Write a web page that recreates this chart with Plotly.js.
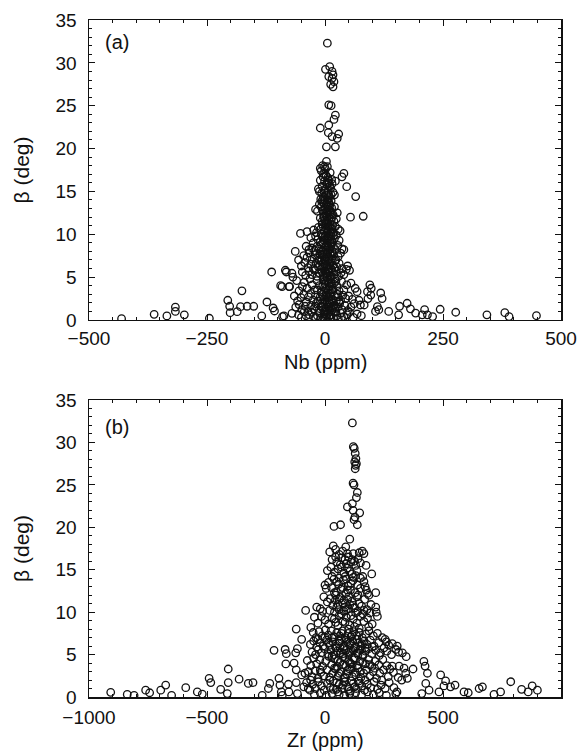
<!DOCTYPE html>
<html>
<head>
<meta charset="utf-8">
<script src="https://cdn.plot.ly/plotly-3.0.1.min.js"></script>
<style>html,body{margin:0;padding:0;background:#fff;}#chart{width:580px;height:751px;}</style>
</head>
<body>
<div id="chart"></div>
<script>
// Panel (a): Nb (ppm) vs beta (deg) — [Nb, beta] pairs
const nbPeak = [[5,32.3],[1,29.25],[10,29.55],[15,29.0],[17,28.6],[15,28.2],[19,27.8],[17,27.2],[12,27.5],[8,28.4],
  [8,25.1],[13,25.0],[22,23.9],[19,23.4],[-10,22.4],[8,22.75],[7,21.85],[15,21.4],[29,21.7],[26,21.2],[3,20.2],[22,20.2],
  [3,18.5],[-10,17.7],[-1,17.9],[40,17.1],[36,16.7],[46,15.55],[65,14.4],[54,12.0],[81,12.1]];
const nbCore = [
  [-8,17.4],[-3,17.1],[2,16.9],[6,16.6],[-10,16.3],[-1,16.2],[9,16.0],[14,16.4],[4,15.8],[-6,15.6],[12,15.4],[0,15.2],[7,15.0],[-12,15.0],
  [17,14.9],[3,14.6],[-4,14.4],[10,14.3],[-9,14.1],[6,14.0],[20,14.6],[15,15.9],[22,16.2],[-14,15.3],[1,17.6],[11,17.2],[5,17.9],[-5,18.0],
  [-20,12.9],[-16,12.7],[-12,13.5],[-8,13.2],[-5,12.8],[-2,13.6],[1,13.0],[3,12.4],[5,13.8],[8,12.9],[10,13.4],[12,12.6],[14,13.1],[17,12.3],
  [20,13.2],[24,11.8],[-10,11.9],[-6,11.5],[-3,12.1],[0,11.6],[2,11.2],[4,12.0],[6,11.4],[9,11.9],[11,11.1],[13,11.6],[16,11.0],[19,11.5],
  [22,10.9],[-14,10.8],[-9,10.6],[-4,10.9],[-1,10.3],[3,10.7],[5,10.2],[7,10.9],[10,10.4],[12,10.1],[15,10.6],[18,10.2],[28,10.6],[32,10.4],
  [-18,10.2],[26,12.5],[-7,14.8],[8,14.6],[13,13.9],[0,14.0],[-2,12.0],[6,12.5],
  [-52,10.1],[-38,10.3],[-24,10.5],[-30,9.6],[-25,9.0],[-20,9.8],[-15,9.4],[-10,9.1],[-6,9.7],[-2,9.3],[1,9.8],[4,9.0],[7,9.5],[10,9.2],
  [13,9.8],[16,9.1],[20,9.5],[24,9.9],[30,9.3],[36,8.3],[-63,8.0],[-40,8.6],[-34,8.2],[-28,8.4],[-22,8.1],[-17,8.6],[-12,8.3],[-8,8.8],
  [-4,8.0],[0,8.5],[3,8.1],[6,8.7],[9,8.2],[12,8.6],[15,8.0],[18,8.5],[22,8.2],[27,8.7],[40,8.2],[-56,7.0],[-45,7.5],[-38,7.3],[-33,7.8],
  [-27,7.1],[-21,7.6],[-16,7.2],[-11,7.7],[-7,7.0],[-3,7.4],[1,7.1],[4,7.7],[8,7.3],[11,7.8],[14,7.1],[18,7.5],[23,7.0],[28,7.4],[33,7.8],
  [-50,6.3],[-43,6.7],[-36,6.1],[-30,6.5],[-25,6.0],[-19,6.6],[-14,6.2],[-9,6.8],[-5,6.1],[-1,6.5],[3,6.9],[6,6.2],[10,6.6],[13,6.0],
  [17,6.4],[21,6.9],[25,6.2],[30,6.6],[36,6.0],[48,6.3],[52,5.8],[-84,5.8],[-70,5.45],[-68,5.0],[-48,5.6],[-41,5.2],[-34,5.7],[-28,5.3],
  [-22,5.8],[-17,5.1],[-12,5.5],[-8,5.9],[-4,5.3],[0,5.7],[4,5.1],[7,5.6],[11,5.2],[15,5.8],[19,5.3],[24,5.7],[29,5.1],[34,5.5],[40,5.3],[45,5.9],
  [-91,3.9],[-75,3.9],[-48,3.9],[-60,4.6],[-55,3.4],[-44,4.4],[-38,3.7],[-32,4.8],[-27,4.1],[-22,3.5],[-17,4.6],[-12,4.0],[-8,3.3],[-4,4.7],
  [0,4.2],[3,3.6],[6,4.5],[9,3.9],[13,4.3],[17,3.5],[21,4.8],[25,4.0],[30,3.4],[35,4.5],[40,3.5],[46,4.1],[55,4.3],[64,3.7],[68,3.3],
  [-65,2.8],[-58,2.2],[-51,2.6],[-45,3.0],[-40,2.1],[-35,2.7],[-30,3.1],[-25,2.3],[-20,2.9],[-15,2.2],[-10,2.7],[-6,3.0],[-2,2.4],[2,2.9],
  [5,2.1],[8,2.6],[12,3.1],[16,2.4],[20,2.8],[24,2.2],[28,2.7],[33,2.3],[38,2.9],[44,2.5],[50,2.8],[58,2.4],[72,2.3],
  [-62,1.5],[-55,1.8],[-49,1.2],[-42,1.6],[-36,1.0],[-30,1.7],[-24,1.3],[-19,1.9],[-13,1.1],[-8,1.6],[-3,1.2],[1,1.8],[4,1.0],[8,1.5],
  [11,1.9],[15,1.2],[19,1.7],[23,1.0],[27,1.5],[31,1.9],[36,1.2],[42,1.7],[48,1.1],[55,1.5],[62,1.9],[75,1.75],[83,1.75],
  [-44,0.97],[-56,0.58],[-70,0.78],[-87,0.47],[-24,0.4],[8,0.4],[-33,0.6],[-16,0.5],[-9,0.2],[-1,0.7],[3,0.3],[13,0.6],[18,0.2],
  [25,0.5],[33,0.8],[40,0.4],[47,0.6],[60,0.3],[68,0.7],[77,0.5]];
const nbDense = [[2,16.8],[7,16.3],[-4,16.7],[10,15.6],[-2,15.0],[5,14.8],[13,14.6],[-7,13.8],[2,13.4],[7,13.3],[11,12.8],[-3,12.5],
  [4,12.7],[9,12.2],[15,12.0],[-6,11.2],[1,11.0],[7,10.6],[11,10.8],[14,12.4],[-1,9.6],[5,9.4],[9,9.9],[12,9.0],[-5,9.0],[2,8.7],
  [7,8.4],[-9,8.1],[14,8.9],[-1,7.7],[3,7.4],[6,7.9],[9,7.0],[16,7.8],[-6,7.6],[0,6.9],[4,6.4],[8,6.0],[12,6.8],[-3,6.3],[-11,6.4],
  [2,5.4],[6,5.9],[9,5.5],[13,5.0],[-2,5.0],[-6,5.6],[1,4.6],[4,4.9],[8,4.3],[11,4.8],[15,4.0],[-1,3.8],[-5,3.9],[3,3.2],[7,3.5],
  [10,3.0],[14,3.6],[18,4.2],[-3,2.7],[0,2.2],[5,2.6],[9,2.0],[13,2.3],[-7,2.0],[2,1.4],[6,1.7],[10,1.2],[-1,1.0],[-5,1.5],[16,1.4],
  [3,0.6],[7,0.9],[11,0.3],[-3,0.3],[20,0.9],[-12,0.8],[-20,0.3],[28,0.2],[-28,0.9],[35,0.3],[-40,0.5],[52,0.9],[-50,0.3],[0,0.1],
  [5,16.0],[-5,14.0],[9,13.6],[3,11.4],[-8,10.0],[6,9.7],[18,9.8],[-13,7.0],[20,6.1],[23,4.5],[-16,3.5],[-20,1.6],[22,1.5],[26,3.0],[30,2.1]];
const nbWings = [[-431,0.15],[-362,0.66],[-335,0.47],[-317,1.5],[-317,1.0],[-298,0.6],[-245,0.2],[-206,2.3],[-202,1.6],[-201,0.85],
  [-176,3.4],[-186,0.97],[-179,1.55],[-165,1.6],[-151,1.6],[-134,0.47],[-123,2.1],[-113,5.6],[-110,1.4],[-107,1.05],[-90,0.4],
  [-94,4.0],[-82,5.6],[-76,3.9],[90,3.3],[97,2.9],[95,4.1],[98,3.7],[91,2.5],[111,1.55],[114,1.2],[107,1.0],[118,3.15],[121,2.5],
  [135,1.0],[156,0.6],[158,1.6],[174,1.95],[181,1.3],[192,0.8],[206,0.6],[211,1.2],[217,0.6],[228,0.4],[244,1.25],[277,0.9],
  [343,0.6],[381,0.85],[390,0.4],[448,0.5]];

// Panel (b): Zr (ppm) vs beta (deg) — [Zr, beta] pairs
const zrPeak = [[116,32.3],[120,29.5],[124,29.3],[128,28.7],[131,28.1],[126,27.7],[130,27.3],[128,26.9],[133,27.5],[119,25.2],[123,25.0],
  [137,24.1],[133,23.5],[95,22.4],[116,22.8],[119,22.0],[147,21.7],[127,21.2],[123,20.9],[137,20.3],[38,20.1],[66,20.3]];
const zrCore = [
  [35,17.8],[88,17.7],[105,18.6],[158,17.2],[165,16.9],[20,17.1],[45,17.4],[60,16.8],[75,17.2],[100,16.5],[120,16.9],[140,16.3],[30,16.2],
  [50,15.9],[70,16.4],[90,15.7],[110,15.9],[130,15.5],[150,15.8],[174,15.5],[10,14.9],[25,15.3],[40,14.7],[55,15.1],[80,14.6],[95,15.2],
  [115,14.5],[135,14.9],[160,14.2],[198,14.5],[65,15.6],[85,16.2],[125,16.0],[145,17.0],
  [5,12.8],[15,13.5],[28,12.9],[38,13.9],[48,12.4],[58,13.3],[68,12.7],[78,13.8],[88,12.2],[98,13.1],[108,12.6],[118,13.7],[128,12.3],
  [138,13.2],[150,12.8],[165,13.6],[180,12.2],[215,12.3],[186,12.0],[-5,11.8],[10,11.2],[22,11.6],[33,10.8],[44,11.4],[55,10.9],[65,11.7],
  [75,11.1],[85,10.6],[95,11.5],[105,10.9],[115,11.3],[125,10.5],[135,11.8],[145,11.0],[155,10.7],[168,11.5],[178,10.3],[195,10.9],
  [215,10.6],[217,10.0],[222,9.5],[-20,10.4],[-35,10.6],[-82,10.2],[-10,10.1],[20,10.2],[40,10.0],[60,10.3],[80,10.1],[100,10.4],
  [140,10.1],[160,9.8],[190,9.9],[30,14.2],[60,14.0],[90,13.9],[120,14.1],[150,14.0],[170,13.0],[0,13.2],[45,12.0],
  [-60,8.2],[-45,9.4],[-30,8.7],[-15,9.5],[0,9.1],[15,8.6],[30,9.3],[45,8.8],[60,9.6],[75,8.9],[90,9.4],[105,8.5],[120,9.2],[135,8.7],
  [150,9.5],[165,8.9],[180,9.3],[200,8.6],
  [-50,7.6],[-38,7.0],[-25,7.7],[-12,7.2],[2,7.9],[14,7.3],[26,7.8],[38,7.1],[50,7.6],[62,7.2],[74,7.8],[86,7.0],[98,7.5],[110,7.1],
  [122,7.7],[134,7.2],[146,7.6],[158,7.0],[172,7.4],[186,7.8],[205,7.2],[222,7.5],[243,7.0],[260,6.5],[285,6.3],[306,6.0],[300,5.6],
  [328,5.2],[344,4.75],
  [-62,6.2],[-48,6.6],[-35,5.9],[-22,6.4],[-8,6.0],[6,6.7],[20,6.1],[33,6.5],[46,5.8],[58,6.3],[70,6.8],[82,6.0],[94,6.5],[106,6.1],
  [118,6.6],[130,5.9],[142,6.4],[154,6.0],[166,6.6],[178,6.2],[192,6.7],[208,6.0],[228,6.4],[250,5.8],[270,6.1],
  [-55,5.3],[-40,5.0],[-28,5.6],[-15,5.2],[-2,5.7],[12,5.1],[25,5.5],[38,5.0],[52,5.4],[64,5.8],[76,5.1],[88,5.5],[100,5.0],[112,5.4],
  [124,5.8],[136,5.2],[148,5.6],[160,5.0],[172,5.4],[185,5.7],[198,5.1],[215,5.5],[235,5.2],[262,5.4],[282,5.0],[312,5.3],
  [-75,4.3],[-60,3.7],[-48,4.6],[-35,3.9],[-22,4.4],[-10,3.6],[3,4.2],[16,4.8],[28,3.8],[40,4.5],[52,3.6],[64,4.1],[76,4.7],[88,3.7],
  [100,4.3],[112,3.9],[124,4.6],[136,3.7],[148,4.2],[160,4.8],[172,3.9],[185,4.4],[198,3.6],[212,4.2],[228,3.8],[245,4.4],[262,3.7],
  [285,3.65],[314,3.65],[335,3.4],[373,3.3],[342,2.8],[349,2.2],
  [-85,2.8],[-70,3.0],[-55,2.4],[-42,3.1],[-30,2.2],[-18,2.9],[-5,2.5],[8,3.2],[20,2.3],[32,2.8],[44,3.3],[56,2.5],[68,3.0],[80,2.2],
  [92,2.7],[104,3.3],[116,2.4],[128,2.9],[140,3.4],[152,2.3],[164,2.8],[176,3.2],[190,2.5],[204,3.0],[218,2.2],[232,2.8],[248,3.2],
  [268,2.4],[290,2.9],[310,2.3],[325,2.0],
  [-90,1.2],[-78,1.7],[-64,0.8],[-52,1.5],[-40,1.0],[-28,1.8],[-15,1.3],[-3,0.8],[10,1.6],[22,1.1],[35,1.9],[48,0.9],[60,1.5],[72,1.0],
  [84,1.8],[96,1.2],[108,0.7],[120,1.6],[132,1.0],[144,1.9],[156,1.3],[168,0.8],[180,1.5],[194,1.1],[208,1.8],[222,0.9],[238,1.4],
  [255,1.0],[272,1.7],[292,1.1],[305,0.6],
  [-45,0.3],[-20,0.5],[5,0.2],[30,0.4],[55,0.6],[80,0.15],[105,0.4],[130,0.5],[155,0.25],[180,0.6],[205,0.3],[230,0.5],[260,0.2],[300,0.4]];
const zrDense = [[45,16.5],[95,16.9],[115,16.2],[70,15.3],[105,14.8],[85,14.2],[50,13.6],[110,13.4],[130,14.3],[75,12.9],[95,12.6],
  [40,12.3],[140,12.0],[60,11.5],[100,11.8],[80,11.4],[120,10.8],[50,10.6],[90,10.2],[130,9.9],[70,9.8],[110,9.6],[40,9.2],[85,8.8],
  [125,8.3],[55,8.4],[100,8.0],[145,8.1],[70,7.5],[115,7.3],[30,7.0],[90,6.7],[135,6.8],[60,6.6],[105,6.4],[155,6.3],[45,6.0],[80,5.7],
  [120,5.5],[170,5.8],[65,5.2],[100,5.3],[140,5.0],[30,4.8],[85,4.6],[125,4.4],[55,4.3],[105,4.0],[160,4.1],[75,3.8],[115,3.5],[40,3.4],
  [95,3.1],[150,3.0],[60,2.8],[130,2.6],[85,2.3],[20,2.0],[110,1.9],[50,1.7],[145,1.6],[75,1.4],[100,0.9],[35,0.9],[60,0.3],[125,1.2],
  [170,2.0],[190,3.8],[200,5.9],[185,8.3],[165,10.2],[175,12.6],[15,6.4],[0,7.0],[-20,3.2],[-30,6.8],[210,3.4],[240,2.0],[275,3.3],
  [255,6.8],[230,4.9]];
const zrWings = [[-908,0.55],[-838,0.3],[-809,0.2],[-760,0.8],[-743,0.5],[-696,0.8],[-675,1.4],[-650,0.2],[-590,1.1],[-541,0.6],
  [-520,0.35],[-442,0.9],[-491,2.2],[-484,1.7],[-410,3.3],[-410,1.7],[-414,0.4],[-364,2.1],[-325,1.6],[-305,1.7],[-266,0.2],
  [-240,1.0],[-234,1.6],[-195,2.2],[-191,1.4],[-185,0.6],[-181,0.2],[-155,1.5],[-153,0.6],[-122,1.7],[-117,0.4],[-99,2.6],
  [-71,1.0],[-61,2.0],[-131,4.0],[-122,3.2],[-166,3.9],[-122,8.0],[-99,6.8],[-117,5.7],[-124,5.2],[-216,5.5],[-169,5.6],[-164,5.1],
  [419,4.2],[424,3.65],[434,2.8],[427,1.6],[441,0.8],[410,0.4],[490,2.6],[511,1.9],[504,1.3],[483,0.6],[532,1.2],[551,1.4],
  [589,0.6],[607,0.5],[653,1.0],[667,1.2],[716,0.3],[744,0.6],[787,1.8],[833,0.9],[861,0.6],[878,1.3],[900,0.8]];

// tick labels and titles
const nbTicks = [-500, -250, 0, 250, 500];
const zrTicks = [-1000, -500, 0, 500, 1000];
const betaTicks = [0, 5, 10, 15, 20, 25, 30, 35];
const xTitles = ['Nb (ppm)', 'Zr (ppm)'];
const yTitle = '\u03b2 (deg)';
const panelLabels = ['(a)', '(b)'];

const nbAll = nbPeak.concat(nbCore, nbDense, nbWings);
const zrAll = zrPeak.concat(zrCore, zrDense, zrWings);

const marker = {symbol: 'circle-open', size: 7.5, color: '#111', line: {width: 1.3, color: '#111'}};
const traces = [
  {type: 'scatter', mode: 'markers', x: nbAll.map(p => p[0]), y: nbAll.map(p => p[1]), xaxis: 'x', yaxis: 'y', marker: marker, hoverinfo: 'x+y'},
  {type: 'scatter', mode: 'markers', x: zrAll.map(p => p[0]), y: zrAll.map(p => p[1]), xaxis: 'x2', yaxis: 'y2', marker: marker, hoverinfo: 'x+y'}
];

const family = 'Liberation Sans, Arial, Helvetica, sans-serif';
const tickFont = {family: family, size: 19, color: '#111'};
const titleFont = {family: family, size: 20, color: '#111'};
const labelFont = {family: family, size: 20, color: '#111'};
function xa(range, ticks, minorStep, anchor, standoff) {
  return {range: range, tickvals: ticks, ticktext: ticks.map(v => v < 0 ? '\u2212' + Math.abs(v) : String(v)),
    ticks: 'inside', ticklen: 6, tickwidth: 1, tickcolor: '#111',
    minor: {dtick: minorStep, ticks: 'inside', ticklen: 3, tickwidth: 1, tickcolor: '#111'},
    showline: true, linecolor: '#111', linewidth: 1.5, mirror: 'ticks', showgrid: false, zeroline: false,
    tickfont: tickFont, ticklabelstandoff: standoff, anchor: anchor, domain: [0, 1]};
}
function ya(domain, anchor) {
  return {range: [0, 35], tickvals: betaTicks, ticks: 'inside', ticklen: 6, tickwidth: 1, tickcolor: '#111',
    minor: {dtick: 1, ticks: 'inside', ticklen: 3, tickwidth: 1, tickcolor: '#111'},
    showline: true, linecolor: '#111', linewidth: 1.5, mirror: 'ticks', showgrid: false, zeroline: false,
    tickfont: tickFont, ticklabelstandoff: 7, title: {text: yTitle, font: {family: family, size: 21, color: '#111'}, standoff: 20}, anchor: anchor, domain: domain};
}

const layout = {
  width: 580, height: 751,
  margin: {l: 89, r: 19, t: 20, b: 54},
  paper_bgcolor: '#fff', plot_bgcolor: '#fff',
  showlegend: false,
  font: tickFont,
  xaxis: xa([-500, 500], nbTicks, 50, 'y', 1),
  yaxis: ya([0.5569, 1], 'x'),
  xaxis2: xa([-1000, 1000], zrTicks, 100, 'y2', 3),
  yaxis2: ya([0, 0.4387], 'x2'),
  annotations: [
    {text: panelLabels[0], xref: 'x domain', yref: 'y domain', x: 0.03, y: 0.925, xanchor: 'left', yanchor: 'middle', showarrow: false, font: labelFont},
    {text: panelLabels[1], xref: 'x2 domain', yref: 'y2 domain', x: 0.03, y: 0.91, xanchor: 'left', yanchor: 'middle', showarrow: false, font: labelFont},
    // x-axis titles: top panel axis line at 320px, bottom panel at 697px
    {text: xTitles[0], xref: 'x domain', yref: 'y domain', x: 0.5, y: -(349 - 320) / 300, xanchor: 'center', yanchor: 'top', showarrow: false, font: titleFont},
    {text: xTitles[1], xref: 'x2 domain', yref: 'y2 domain', x: 0.5, y: -(727 - 697) / 297, xanchor: 'center', yanchor: 'top', showarrow: false, font: titleFont}
  ]
};

Plotly.newPlot('chart', traces, layout, {displayModeBar: false, staticPlot: true});
</script>
</body>
</html>
